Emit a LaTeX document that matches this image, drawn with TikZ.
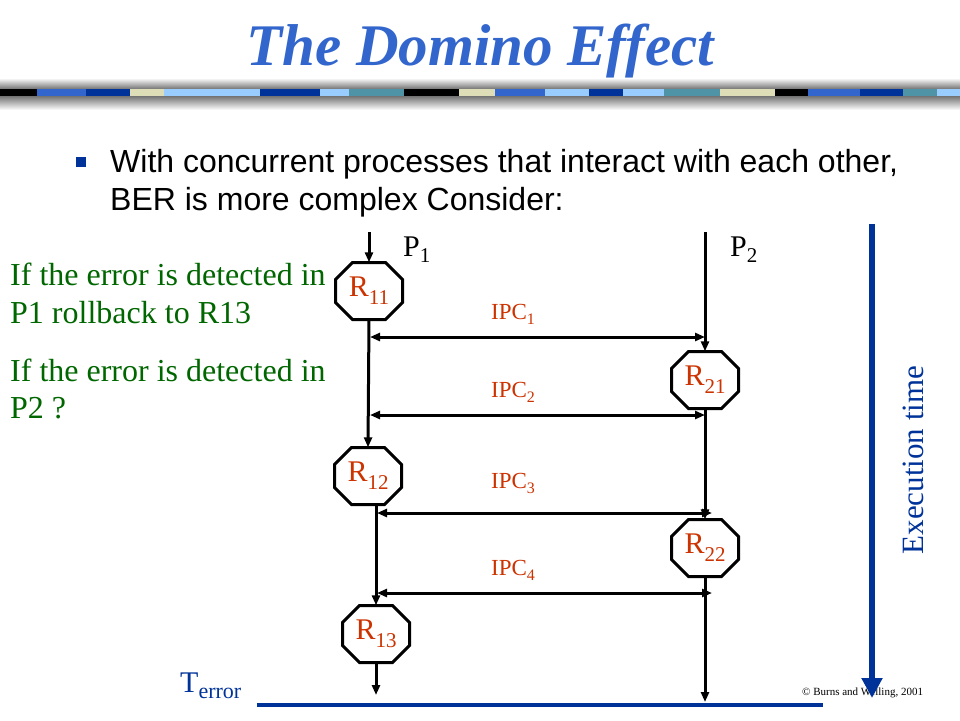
\documentclass[tikz,border=0pt]{standalone}
\usepackage{fontspec}
\setmainfont{Liberation Serif}
\newfontfamily\arialfont{Liberation Sans}
\usetikzlibrary{arrows.meta}
\definecolor{titleblue}{HTML}{3366CC}
\definecolor{navy}{HTML}{003399}
\definecolor{dgreen}{HTML}{006600}
\definecolor{rred}{HTML}{CC3300}
\definecolor{beige}{HTML}{DDDDB8}
\definecolor{lblue}{HTML}{99CCFF}
\definecolor{tealc}{HTML}{4F93A6}
\newcommand{\fs}[1]{\fontsize{#1}{#1}\selectfont}
\newcommand{\lowsub}[3]{\raisebox{-#1}{\fs{#2}#3}}
% octagon outline centred at (#1,#2), 67 x 57 with 17 px corner cuts
\newcommand{\octshape}[2]{%
  \draw[octline] (#1-16.5,#2-28.5) -- (#1+16.5,#2-28.5) -- (#1+33.5,#2-11.5) -- (#1+33.5,#2+11.5)
    -- (#1+16.5,#2+28.5) -- (#1-16.5,#2+28.5) -- (#1-33.5,#2+11.5) -- (#1-33.5,#2-11.5) -- cycle;}
\begin{document}
\begin{tikzpicture}[x=1pt,y=-1pt,
  octline/.style={draw=black, line width=3pt, fill=white, line join=miter},
  octa/.style={rectangle, minimum width=67pt, minimum height=57pt,
    inner sep=0pt, text=rred, font=\fs{30}},
  flow/.style={line width=3pt, -{Triangle[length=10pt,width=8pt]}},
  ipc/.style={line width=3pt, {Triangle[length=10pt,width=8pt]}-{Triangle[length=10pt,width=8pt]}},
  ipclbl/.style={anchor=base west, inner sep=0pt, text=rred, font=\fs{23}},
  note/.style={anchor=base west, inner sep=0pt, text=dgreen, font=\fs{32}},
  plbl/.style={anchor=base west, inner sep=0pt, text=black, font=\fs{30}}]
\fill[white] (0,0) rectangle (960,720);
\useasboundingbox (0,0) rectangle (960,720);
% title
\node[anchor=base, inner sep=0pt, text=titleblue, font=\fs{59}\bfseries\itshape] (title) at (480,65) {The Domino Effect};
% decorative band
\shade[top color=white, bottom color=black!55] (0,78) rectangle (960,89);
\shade[top color=black!55, bottom color=white] (0,96) rectangle (960,110);
\foreach \a/\b/\c in {0/37/black, 37/86/titleblue, 86/130/navy, 130/164/beige, 164/260/lblue,
  260/320/navy, 320/349/lblue, 349/404/tealc, 404/459/black, 459/495/beige, 495/545/titleblue,
  545/589/lblue, 589/623/navy, 623/664/lblue, 664/720/tealc, 720/775/beige, 775/808/black,
  808/860/titleblue, 860/903/navy, 903/937/tealc, 937/960/lblue}
  \fill[\c] (\a,89) rectangle (\b,96);
% bullet text
\node[fill=navy, minimum size=10pt, inner sep=0pt] (bullet) at (81,162) {};
\node[anchor=base west, inner sep=0pt, font=\arialfont\fs{32}] (l1) at (110,172) {With concurrent processes that interact with each other,};
\node[anchor=base west, inner sep=0pt, font=\arialfont\fs{32}] (l2) at (110,210) {BER is more complex Consider:};
% green notes
\node[note] (n1) at (10,285) {If the error is detected in};
\node[note] (n2) at (10,323) {P1 rollback to R13};
\node[note] (n3) at (10,381) {If the error is detected in};
\node[note] (n4) at (10,418) {P2 ?};
% process labels
\node[plbl] (P1) at (403,256) {P\lowsub{6pt}{21}{1}};
\node[plbl] (P2) at (730,256) {P\lowsub{6pt}{21}{2}};
% recovery points (octagon outlines, then named text nodes)
\octshape{369}{291}
\octshape{705}{380}
\octshape{368}{476}
\octshape{705}{548}
\octshape{376}{634}
\node[octa] (R11) at (369,291) {R\lowsub{8pt}{21}{11}};
\node[octa] (R21) at (705,380) {R\lowsub{8pt}{21}{21}};
\node[octa] (R12) at (368,476) {R\lowsub{8pt}{21}{12}};
\node[octa] (R22) at (705,548) {R\lowsub{8pt}{21}{22}};
\node[octa] (R13) at (376,634) {R\lowsub{8pt}{21}{13}};
% process lines
\coordinate (p1top) at (369,232);
\coordinate (p2top) at (705,232);
\coordinate (p1bot) at (376,695);
\coordinate (p2bot) at (705,702);
\draw[flow] (p1top) -- (R11.north);
\draw[flow] (R11.south) -- (R12.north);
\draw[flow] (R13.north |- R12.south) -- (R13.north);
\draw[flow] (R13.south) -- (p1bot);
\draw[flow] (p2top) -- (R21.north);
\draw[flow] (R21.south) -- (R22.north);
\draw[flow] (R22.south) -- (p2bot);
% IPC
\coordinate (i1a) at (370,337); \coordinate (i1b) at (705,337);
\coordinate (i2a) at (370,415); \coordinate (i2b) at (705,415);
\coordinate (i3a) at (377,513); \coordinate (i3b) at (712,513);
\coordinate (i4a) at (377,593); \coordinate (i4b) at (712,593);
\draw[ipc] (i1a) -- (i1b);
\draw[ipc] (i2a) -- (i2b);
\draw[ipc] (i3a) -- (i3b);
\draw[ipc] (i4a) -- (i4b);
\node[ipclbl] (ipc1) at (491,319) {IPC\lowsub{5pt}{16}{1}};
\node[ipclbl] (ipc2) at (491,397) {IPC\lowsub{5pt}{16}{2}};
\node[ipclbl] (ipc3) at (491,488) {IPC\lowsub{5pt}{16}{3}};
\node[ipclbl] (ipc4) at (491,575) {IPC\lowsub{5pt}{16}{4}};
% T error and base line
\node[anchor=base west, inner sep=0pt, text=navy, font=\fs{30}] (terr) at (180,692) {T\lowsub{6pt}{22}{error}};
\coordinate (b1) at (257,705); \coordinate (b2) at (823,705);
\draw[navy, line width=4pt] (b1) -- (b2);
% copyright
\node[anchor=base west, inner sep=0pt, font=\fs{11}] (copy) at (802,695) {\textcopyright{} Burns and Welling, 2001};
% execution time
\coordinate (e1) at (872,224); \coordinate (e2) at (872,698);
\draw[navy, line width=6pt, -{Triangle[length=20pt,width=20pt]}] (e1) -- (e2);
\node[rotate=90, inner sep=0pt, text=navy, font=\fs{31}] (exec) at (913,460) {Execution time};
\end{tikzpicture}
\end{document}
